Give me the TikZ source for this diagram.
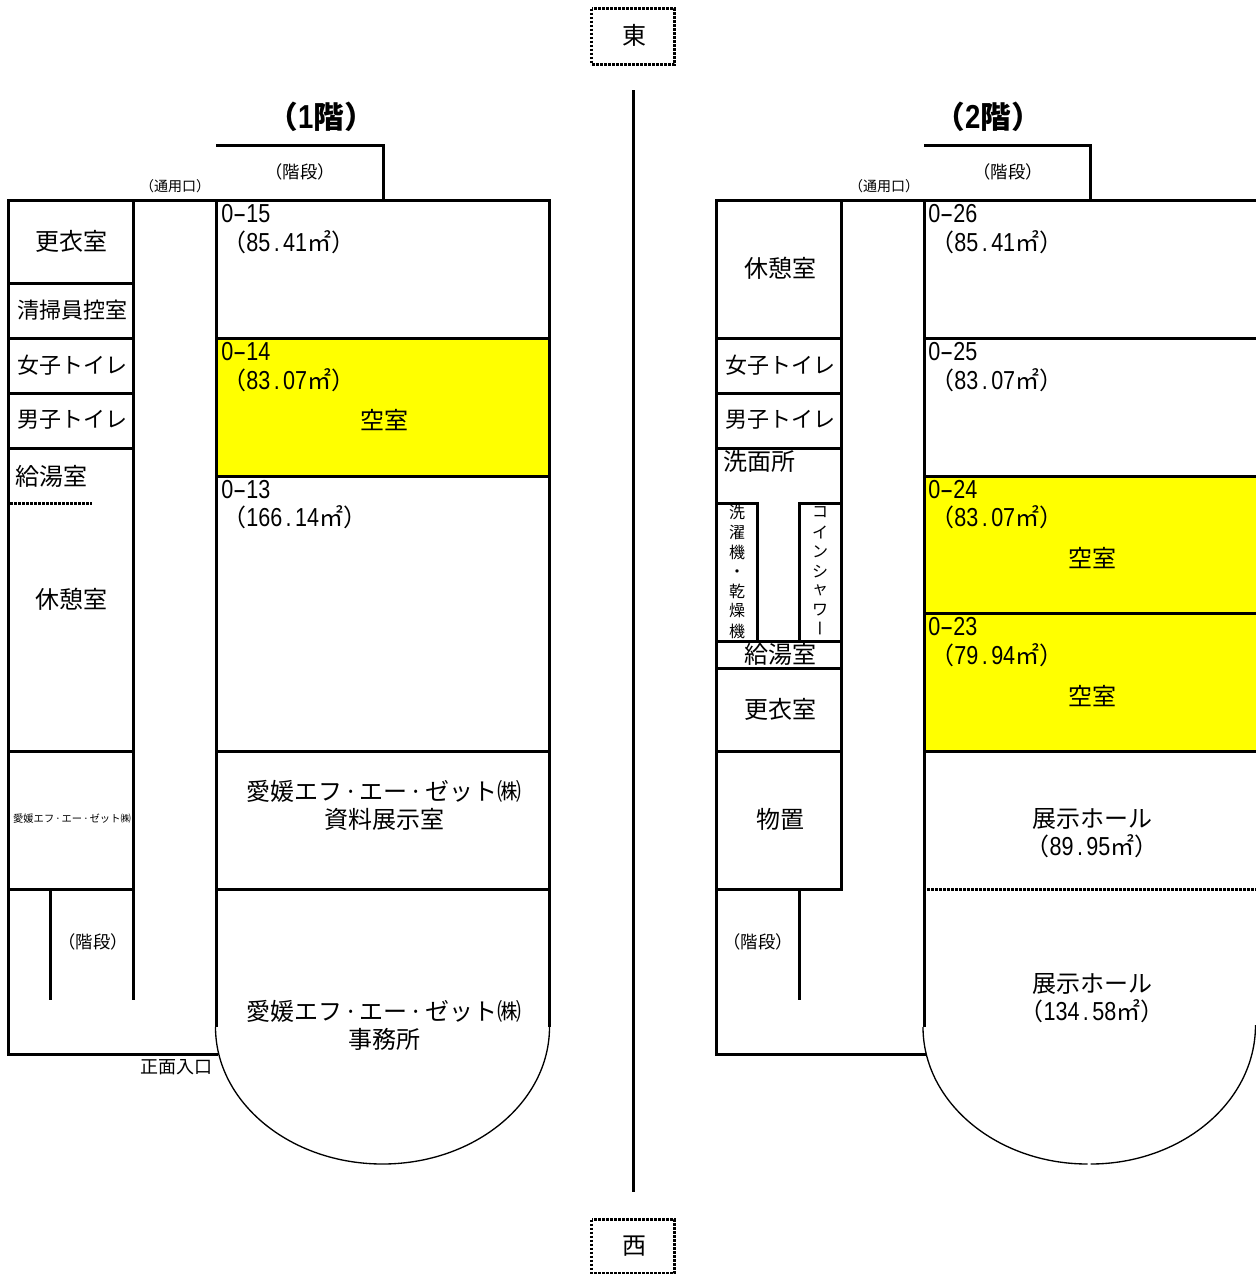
\documentclass[tikz,border=0pt]{standalone}
\usepackage{fontspec}
\setmainfont{Noto Sans CJK JP}
\newfontfamily\hwf[FakeStretch=0.83,Scale=1.083]{Liberation Sans}
\newcommand{\hw}[1]{{\hwf #1}}
\newcommand{\dt}{\makebox[0.5em]{.}}
\newcommand{\hy}{\makebox[0.5em]{\scalebox{1.9}[1]{-}}}
\newcommand{\ndt}{\hspace{.083em}·\hspace{.083em}}
\definecolor{vacant}{RGB}{255,255,0}
\tikzset{
  wall/.style={line width=2.25pt,line cap=rect},
  wallb/.style={line width=2.25pt,line cap=butt},
  thin wall/.style={line width=1pt},
  dot wall/.style={line width=2.25pt,dash pattern=on 2pt off 1pt},
  lab/.style={inner sep=0pt,font=\fontsize{18}{18}\selectfont},
  lab22/.style={inner sep=0pt,font=\fontsize{16.5}{18}\selectfont},
  lab16/.style={inner sep=0pt,font=\fontsize{12}{14}\selectfont},
  labst/.style={inner sep=0pt,font=\fontsize{13}{14}\selectfont},
  lab14/.style={inner sep=0pt,font=\fontsize{13.5}{14}\selectfont},
  lab12/.style={inner sep=0pt,font=\fontsize{10.5}{11}\selectfont},
  lab10/.style={inner sep=0pt,font=\fontsize{7.7}{8}\selectfont},
  title/.style={inner sep=0pt,font=\fontsize{23}{24}\selectfont\bfseries},
  num/.style={lab,anchor=west},
}
\begin{document}
\begin{tikzpicture}[x=0.75pt,y=-0.75pt]
\useasboundingbox (0,0) rectangle (1256,1274);
% yellow rooms
\fill[vacant] (216.5,338.5) rectangle (549.5,476.5);
\fill[vacant] (924.5,476.5) rectangle (1256,751.5);
% compass and axis
\draw[dot wall] (591.5,8.5) rectangle (674.5,64);
\draw[dot wall] (591.5,1219.5) rectangle (674.5,1273);
\draw[wallb] (633,90) -- (633,1192);
\node[lab] (east) at (634,35) {東};
\node[lab] (west) at (634,1246) {西};
% ---------- floor 1 ----------
\draw[wall] (217.5,145.5) -- (383.5,145.5) -- (383.5,200.5);
\draw[wall] (8.5,200.5) -- (549.5,200.5);
\draw[wallb] (549.5,200.5) -- (549.5,1027);
\draw[wallb] (216.5,200.5) -- (216.5,1027);
\draw[wallb] (133.5,200.5) -- (133.5,1000);
\draw[wallb] (50.5,889) -- (50.5,1000);
\draw[wall] (8.5,200.5) -- (8.5,1054.5) -- (216.5,1054.5);
\foreach \yy in {283.5,338.5,393.5,448.5,751.5,889}
  \draw[wallb] (8.5,\yy) -- (133.5,\yy);
\foreach \yy in {338.5,476.5,751.5,889}
  \draw[wallb] (216.5,\yy) -- (549.5,\yy);
\draw[dot wall] (10,503.5) -- (92,503.5);
\draw[thin wall] (215.5,1027) .. controls (215.5,1102.7) and (290.5,1164) .. (382.5,1164)
  .. controls (474.5,1164) and (549.5,1102.7) .. (549.5,1027);
\node[title] (t1) at (321,117) {（\hw{1}階）};
\node[labst] (s1) at (300,172) {（階段）};
\node[lab12] (g1) at (175,186) {（通用口）};
\node[lab] (a1) at (72,241) {更衣室};
\node[lab22] (a2) at (72,310) {清掃員控室};
\node[lab22] (a3) at (72,365) {女子トイレ};
\node[lab22] (a4) at (72,420) {男子トイレ};
\node[lab,anchor=west] (a5) at (15,476) {給湯室};
\node[lab] (a6) at (72,599) {休憩室};
\node[lab10] (a7) at (72,819) {愛媛エフ\ndt エー\ndt ゼット㈱};
\node[labst] (a8) at (93,942) {（階段）};
\node[lab14] (a9) at (176,1067) {正面入口};
\node[num] (r15) at (221,214) {\hw{0\hy 15}};
\node[num] (r15a) at (222,242) {（\hw{85\dt 41}㎡）};
\node[num] (r14) at (221,352) {\hw{0\hy 14}};
\node[num] (r14a) at (222,380) {（\hw{83\dt 07}㎡）};
\node[lab] (r14v) at (384,420) {空室};
\node[num] (r13) at (221,490) {\hw{0\hy 13}};
\node[num] (r13a) at (222,517) {（\hw{166\dt 14}㎡）};
\node[lab] (b1) at (384,791) {愛媛エフ\ndt エー\ndt ゼット㈱};
\node[lab] (b2) at (384,819) {資料展示室};
\node[lab] (c1) at (384,1011) {愛媛エフ\ndt エー\ndt ゼット㈱};
\node[lab] (c2) at (384,1039) {事務所};
% ---------- floor 2 ----------
\draw[wall] (925.5,145.5) -- (1090.5,145.5) -- (1090.5,200.5);
\draw[wallb] (715,200.5) -- (1256,200.5);
\draw[wallb] (924.5,200.5) -- (924.5,1027);
\draw[wallb] (841.5,200.5) -- (841.5,889);
\draw[wallb] (799.5,889) -- (799.5,1000);
\draw[wall] (716.5,200.5) -- (716.5,1054.5) -- (924.5,1054.5);
\foreach \yy in {338.5,393.5,448.5,641,668.5,751.5,889}
  \draw[wallb] (716.5,\yy) -- (843,\yy);
\draw[wallb] (716.5,503) -- (757.5,503) (757.5,501.9) -- (757.5,641);
\draw[wallb] (841.5,503) -- (799.5,503) (799.5,501.9) -- (799.5,641);
\foreach \yy in {338.5,476.5,613.5,751.5}
  \draw[wallb] (924.5,\yy) -- (1256,\yy);
\draw[dot wall] (927,889) -- (1256,889);
\draw[thin wall] (923,1027) .. controls (923,1102.7) and (997.3,1164) .. (1087.5,1164);
\draw[thin wall] (1090.5,1164) .. controls (1180.7,1164) and (1255.5,1102.7) .. (1255.5,1025);
\node[title] (t2) at (988,117) {（\hw{2}階）};
\node[labst] (s2) at (1008,172) {（階段）};
\node[lab12] (g2) at (884,186) {（通用口）};
\node[lab] (d1) at (780,268) {休憩室};
\node[lab22] (d2) at (780,365) {女子トイレ};
\node[lab22] (d3) at (780,420) {男子トイレ};
\node[lab] (d4) at (759,461) {洗面所};
\node[lab] (d5) at (780,654) {給湯室};
\node[lab] (d6) at (780,709) {更衣室};
\node[lab] (d7) at (780,819) {物置};
\node[labst] (d8) at (758,942) {（階段）};
% washer column
\node[lab16] (w1) at (737,512) {洗};
\node[lab16] (w2) at (737,532) {濯};
\node[lab16] (w3) at (737,552) {機};
\node[lab16] (w4) at (737,574) {・};
\node[lab16] (w5) at (737,591) {乾};
\node[lab16] (w6) at (737,611) {燥};
\node[lab16] (w7) at (737,631) {機};
% shower column
\node[lab16] (h1) at (820,512) {コ};
\node[lab16] (h2) at (820,532) {イ};
\node[lab16] (h3) at (820,552) {ン};
\node[lab16] (h4) at (820,572) {シ};
\node[lab16] (h5) at (820,590) {ャ};
\node[lab16] (h6) at (820,610) {ワ};
\node[lab16,rotate=90] (h7) at (823,628) {ー};
\node[num] (r26) at (928,214) {\hw{0\hy 26}};
\node[num] (r26a) at (930,242) {（\hw{85\dt 41}㎡）};
\node[num] (r25) at (928,352) {\hw{0\hy 25}};
\node[num] (r25a) at (930,380) {（\hw{83\dt 07}㎡）};
\node[num] (r24) at (928,490) {\hw{0\hy 24}};
\node[num] (r24a) at (930,517) {（\hw{83\dt 07}㎡）};
\node[lab] (r24v) at (1092,558) {空室};
\node[num] (r23) at (928,627) {\hw{0\hy 23}};
\node[num] (r23a) at (930,655) {（\hw{79\dt 94}㎡）};
\node[lab] (r23v) at (1092,696) {空室};
\node[lab] (e1) at (1092,819) {展示ホール};
\node[lab] (e2) at (1092,846) {（\hw{89\dt 95}㎡）};
\node[lab] (f1) at (1092,984) {展示ホール};
\node[lab] (f2) at (1092,1011) {（\hw{134\dt 58}㎡）};
\end{tikzpicture}
\end{document}
